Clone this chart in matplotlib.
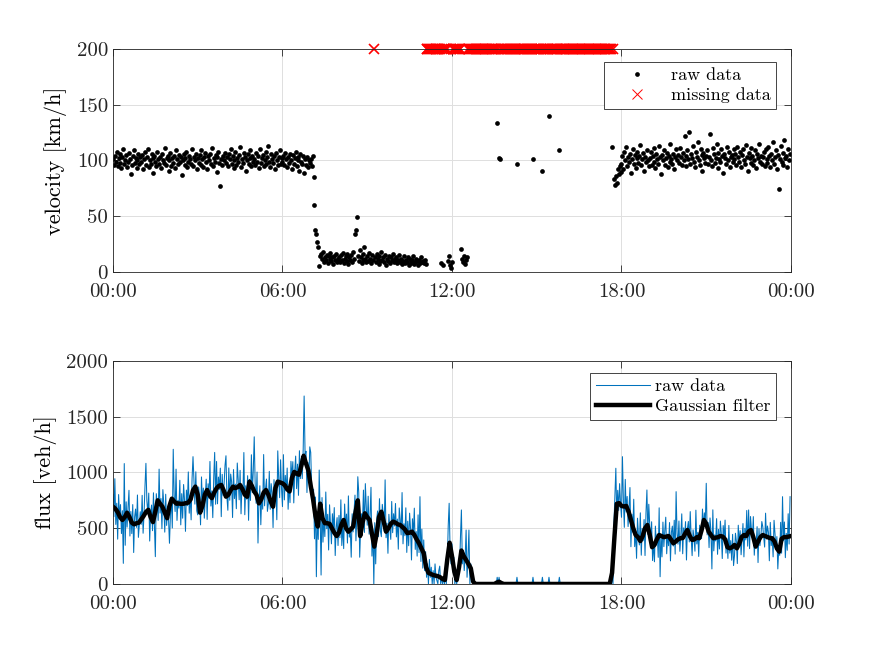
import numpy as np
import matplotlib.pyplot as plt
import matplotlib.dates as mdates

plt.rcParams['font.family'] = 'serif'
plt.rcParams['font.serif'] = ['cmr10']
plt.rcParams['mathtext.fontset'] = 'cm'
plt.rcParams['axes.unicode_minus'] = False

N = None

# velocity [km/h], one sample every 2 min starting 00:00, None = missing
vel_00_06 = [
    101, 96, 104, 99, 108, 95, 102, 106, 98, 93, 103, 110, 97, 100, 105, 94, 99, 107, 101, 88, 96, 104, 109, 98, 102, 93, 100, 106, 97, 103,
    99, 105, 92, 101, 108, 96, 103, 110, 94, 100, 97, 106, 102, 89, 104, 99, 95, 108, 101, 97, 103, 93, 106, 100, 98, 111, 96, 102, 104, 91,
    100, 107, 95, 102, 98, 104, 93, 109, 101, 97, 105, 99, 103, 87, 100, 106, 96, 102, 108, 94, 99, 104, 101, 97, 110, 95, 103, 100, 106, 92,
    102, 98, 105, 96, 109, 101, 94, 103, 107, 99, 92, 104, 100, 106, 97, 111, 95, 102, 99, 105, 90, 103, 108, 98, 77, 101, 96, 104, 100, 107,
    98, 103, 95, 106, 101, 110, 97, 104, 93, 100, 108, 96, 102, 99, 105, 112, 94, 101, 98, 107, 103, 91, 100, 106, 97, 109, 102, 95, 104, 99,
    101, 96, 107, 99, 104, 93, 110, 98, 102, 105, 95, 100, 108, 97, 103, 113, 99, 94, 106, 101, 98, 104, 92, 107, 100, 96, 103, 109, 97, 102,
]
vel_06_12 = [
    99, 104, 96, 107, 101, 94, 103, 98, 106, 100, 92, 105, 97, 102, 108, 95, 100, 103, 91, 106, 99, 97, 104, 89, 101, 96, 103, 94, 100, 98,
    101, 95, 104, 85, 60, 38, 34, 27, 22, 5, 14, 16, 12, 18, 9, 13, 11, 15, 8, 14, 12, 17, 10, 13, 7, 14, 11, 16, 9, 12,
    13, 9, 15, 11, 17, 8, 12, 14, 10, 16, 7, 13, 11, 15, 9, 18, 12, 34, 38, 49, 14, 10, 20, 13, 8, 16, 11, 22, 12, 9,
    14, 10, 17, 12, 8, 15, 11, N, 13, 9, 16, 12, 7, 14, 10, 18, 11, 13, 9, 15, 6, 12, 10, 14, 8, 13, 11, 16, 9, 12,
    10, 13, 8, 11, 15, 9, 12, 7, 10, 14, 8, 11, 9, 13, 6, 12, 10, 8, 11, 14, 7, 9, 12, 10, 6, 11, 8, 13, 9, 10,
] + [8, 11, 7] + [N] * 15 + [8, N, 6] + [N] * 5 + [10, 14, 6, 4]
vel_12_18 = ([9] + [N] * 9 + [21, 12, 9, 14, 7, 11, 13] + [N] * 13
             + [N] * 18 + [134, N, 102, 101] + [N] * 8
             + [N] * 9 + [97] + [N] * 16 + [101] + [N] * 3
             + [N] * 6 + [91] + [N] * 6 + [140] + [N] * 10 + [109] + [N] * 5
             + [N] * 30
             + [N] * 20 + [112, N, 83, 78, 86, 80, 92, 88, 95, 90])
vel_18_24 = [
    97, 104, 92, 108, 100, 112, 95, 103, 99, 106, 89, 101, 110, 97, 105, 93, 102, 108, 98, 104, 114, 96, 101, 107, 91, 103, 99, 109, 100, 95,
    102, 108, 96, 104, 111, 99, 93, 106, 101, 97, 113, 103, 88, 105, 100, 109, 96, 102, 107, 94, 104, 99, 115, 101, 97, 106, 92, 103, 110, 100,
    105, 98, 111, 103, 96, 107, 100, 122, 104, 95, 109, 101, 126, 97, 106, 102, 113, 99, 94, 108, 103, 117, 100, 96, 110, 105, 91, 107, 102, 98,
    104, 109, 97, 103, 124, 100, 95, 111, 106, 98, 102, 115, 93, 107, 101, 99, 110, 104, 89, 106, 102, 97, 112, 100, 108, 94, 103, 105, 99, 110,
    101, 106, 96, 112, 103, 99, 108, 94, 105, 110, 100, 97, 114, 103, 91, 107, 102, 98, 111, 104, 96, 100, 109, 93, 106, 102, 115, 99, 104, 97,
    103, 108, 95, 110, 101, 98, 112, 104, 94, 106, 100, 117, 97, 103, 109, 92, 105, 74, 101, 113, 99, 107, 96, 118, 102, 104, 94, 110, 100, 106,
]

# flux [veh/h], one sample every 2 min starting 00:00
flux_00_06 = [
    804, 604, 944, 534, 724, 402, 802, 592, 712, 452, 657, 185, 1080, 347, 737, 510, 690, 840, 430, 650, 452, 712, 282, 602, 672, 508, 798, 418, 538, 648,
    535, 795, 455, 625, 875, 1082, 745, 635, 815, 385, 628, 708, 478, 818, 528, 245, 810, 720, 570, 1030, 636, 766, 496, 846, 716, 465, 805, 525, 695, 585,
    365, 612, 772, 502, 1208, 790, 650, 1030, 570, 750, 680, 930, 530, 810, 590, 892, 752, 472, 842, 702, 1005, 635, 795, 575, 945, 1142, 936, 716, 1006, 656,
    620, 870, 780, 530, 960, 720, 860, 590, 770, 940, 579, 899, 769, 1099, 699, 835, 595, 955, 1180, 715, 1099, 719, 959, 849, 1039, 604, 984, 794, 894, 1064,
    1150, 781, 661, 1041, 751, 986, 916, 596, 1026, 766, 895, 675, 1085, 935, 755, 1019, 629, 879, 809, 1179, 621, 881, 761, 971, 571, 939, 749, 1159, 819, 1019,
    1320, 894, 724, 1004, 367, 751, 881, 531, 801, 671, 1161, 701, 851, 941, 651, 720, 1010, 670, 900, 820, 506, 936, 756, 866, 576, 1194, 944, 774, 1114, 854,
]
flux_06_12 = [
    694, 1160, 754, 974, 834, 1040, 670, 890, 730, 1100, 957, 1097, 727, 1007, 1147, 855, 1075, 795, 1195, 945, 1125, 945, 1205, 1686, 1165, 1190, 820, 1090, 930, 1230,
    1180, 860, 715, 850, 405, 780, 65, 625, 400, 1022, 640, 80, 775, 375, 590, 425, 825, 495, 625, 305, 710, 540, 360, 630, 490, 685, 255, 505, 595, 345,
    615, 415, 755, 345, 535, 317, 717, 507, 627, 367, 790, 420, 490, 240, 630, 467, 647, 797, 387, 607, 962, 820, 240, 500, 630, 552, 842, 462, 900, 692,
    527, 787, 447, 617, 867, 250, 490, 0, 550, 180, 575, 655, 425, 765, 475, 424, 714, 624, 474, 934, 415, 545, 275, 625, 495, 400, 740, 460, 630, 520,
    722, 422, 582, 312, 682, 580, 440, 820, 360, 540, 433, 683, 283, 563, 343, 635, 495, 215, 585, 445, 680, 310, 470, 250, 620, 282, 783, 202, 492, 142,
    395, 120, 290, 60, 180, 0, 220, 60, 150, 0, 120, 0, 180, 60, 30, 0, 120, 160, 0, 60, 0, 60, 0, 120, 0, 180, 520, 724, 300, 180,
]
flux_12_18 = ([360, 120, 240, 0, 60, 0, 60, 180, 120, 420, 664, 180, 300, 120, 240, 484, 60, 240, 484, 0, 180, 120, 60, 0, 0, 0, 0, 0, 0, 0]
              + [0] * 18 + [60, 0, 60] + [0] * 9
              + [0] * 9 + [60] + [0] * 16 + [60] + [0] * 3
              + [0] * 6 + [60] + [0] * 6 + [60] + [0] * 10 + [60] + [0] * 5
              + [0] * 30
              + [0] * 20 + [60, 0, 540, 780, 1038, 600, 840, 660, 900, 720])
flux_18_24 = [
    598, 1142, 758, 508, 938, 645, 785, 515, 695, 865, 334, 625, 465, 760, 335, 470, 230, 590, 440, 350, 638, 258, 498, 388, 578, 255, 635, 843, 445, 715,
    536, 336, 558, 210, 372, 199, 519, 351, 447, 239, 683, 65, 443, 243, 555, 335, 479, 599, 271, 447, 343, 551, 207, 463, 519, 340, 572, 268, 828, 452,
    357, 565, 293, 429, 629, 271, 503, 415, 559, 215, 497, 561, 377, 649, 417, 254, 486, 414, 294, 662, 359, 463, 247, 527, 423, 407, 672, 488, 638, 536,
    903, 440, 552, 326, 592, 473, 135, 665, 297, 441, 386, 586, 266, 490, 314, 564, 452, 228, 524, 412, 573, 277, 405, 229, 525, 277, 389, 213, 445, 165,
    255, 455, 383, 183, 527, 366, 478, 262, 406, 542, 243, 499, 395, 659, 339, 664, 317, 605, 485, 413, 604, 258, 410, 362, 514, 192, 496, 344, 424, 560,
    515, 427, 331, 635, 403, 520, 464, 208, 552, 344, 419, 243, 571, 451, 307, 425, 135, 313, 257, 553, 276, 783, 388, 556, 236, 454, 302, 630, 358, 783,
]

# Gaussian filtered flux [veh/h], one value every 5 min from 00:00 to 24:00
flux_smooth = [
    693, 675, 645, 600, 574, 600, 639, 600, 550, 535, 545, 550,
    580, 609, 645, 665, 600, 555, 650, 750, 720, 693, 640, 590,
    700, 765, 740, 720, 722, 718, 720, 725, 730, 760, 840, 873,
    800, 640, 700, 800, 843, 795, 770, 820, 858, 880, 888, 840,
    783, 800, 840, 873, 860, 870, 888, 850, 800, 783, 918, 880,
    830, 798, 723, 760, 820, 843, 800, 740, 693, 860, 918, 910,
    903, 885, 850, 830, 950, 1005, 990, 980, 1060, 1150, 1080, 1020,
    880, 760, 610, 515, 720, 590, 545, 545, 540, 500, 460, 430,
    460, 530, 574, 500, 469, 490, 514, 640, 750, 430, 550, 634,
    600, 574, 450, 335, 450, 600, 648, 560, 469, 500, 540, 559,
    550, 535, 529, 510, 490, 456, 460, 469, 440, 400, 365, 320,
    275, 150, 100, 90, 80, 75, 70, 60, 45, 36, 220, 370,
    250, 110, 36, 150, 300, 250, 215, 180, 140, 20, 0, 0,
    0, 0, 0, 0, 0, 0, 0, 12, 20, 8, 0, 0,
    0, 0, 0, 0, 0, 0, 0, 0, 0, 0, 0, 0,
    0, 0, 0, 0, 0, 0, 0, 0, 0, 0, 0, 0,
    0, 0, 0, 0, 0, 0, 0, 0, 0, 0, 0, 0,
    0, 0, 0, 0, 0, 0, 0, 0, 100, 420, 720, 725,
    700, 695, 700, 650, 574, 500, 440, 420, 385, 430, 500, 529,
    440, 330, 350, 400, 439, 430, 420, 425, 430, 400, 365, 380,
    400, 410, 412, 450, 484, 430, 395, 400, 420, 410, 480, 574,
    540, 470, 440, 410, 415, 420, 430, 425, 400, 330, 320, 330,
    350, 320, 360, 420, 439, 430, 470, 484, 420, 335, 380, 420,
    439, 430, 420, 412, 410, 380, 320, 290, 405, 420, 420, 425,
    430,
]

vel = np.array(vel_00_06 + vel_06_12 + vel_12_18 + vel_18_24, dtype=float)
flux = np.array(flux_00_06 + flux_06_12 + flux_12_18 + flux_18_24, dtype=float)
smooth = np.array(flux_smooth, dtype=float)

day = np.datetime64('2020-01-01T00:00')
t_raw = day + np.arange(len(vel)) * np.timedelta64(2, 'm')
t_flux = day + np.arange(len(flux)) * np.timedelta64(2, 'm')
t_smooth = day + np.arange(len(smooth)) * np.timedelta64(5, 'm')
missing = np.isnan(vel)

dark = '#262626'
fig = plt.figure(figsize=(8.75, 6.56), dpi=100)
ax1 = fig.add_axes([0.1291, 0.5854, 0.7749, 0.3399])
ax2 = fig.add_axes([0.1291, 0.1098, 0.7749, 0.3399])

ax1.plot(t_raw, vel, 'o', color='k', ms=3.4, mew=0, label='raw data')
ax1.plot(t_raw[missing], np.full(missing.sum(), 200.0), 'x', color='r', ms=7, mew=1.2,
         clip_on=False, label='missing data')
ax1.set_ylim(0, 200)
ax1.set_yticks([0, 50, 100, 150, 200])
ax1.set_ylabel('velocity [km/h]', fontsize=16, labelpad=7)

ax2.plot(t_flux, flux, color='#0072BD', lw=0.75, label='raw data')
ax2.plot(t_smooth, smooth, color='k', lw=3.2, solid_joinstyle='round', label='Gaussian filter')
ax2.set_ylim(0, 2000)
ax2.set_yticks([0, 500, 1000, 1500, 2000])
ax2.set_ylabel('flux [veh/h]', fontsize=16, labelpad=7)

for ax in (ax1, ax2):
    ax.set_xlim(day, day + np.timedelta64(24, 'h'))
    ax.xaxis.set_major_locator(mdates.HourLocator(byhour=[0, 6, 12, 18]))
    ax.xaxis.set_major_formatter(mdates.DateFormatter('%H:%M'))
    ax.grid(True, color='#dfdfdf', lw=0.7)
    ax.set_axisbelow(True)
    ax.tick_params(direction='in', top=True, right=True, length=5, width=0.6,
                   labelsize=15, colors=dark)
    ax.tick_params(axis='x', pad=8)
    for s in ax.spines.values():
        s.set_color(dark)
        s.set_linewidth(0.6)

leg1 = ax1.legend(loc='upper right', bbox_to_anchor=(0.8869, 0.9055), bbox_transform=fig.transFigure,
                  borderaxespad=0, fontsize=13, fancybox=False, framealpha=1, edgecolor=dark,
                  handlelength=3.0, handletextpad=0.4, labelspacing=0.25, borderpad=0.3, numpoints=1)
leg2 = ax2.legend(loc='upper right', bbox_to_anchor=(0.8869, 0.4314), bbox_transform=fig.transFigure,
                  borderaxespad=0, fontsize=13, fancybox=False, framealpha=1, edgecolor=dark,
                  handlelength=3.0, handletextpad=0.3, labelspacing=0.25, borderpad=0.3)
for leg in (leg1, leg2):
    leg.get_frame().set_linewidth(0.6)
leg1.legend_handles[1].set_markeredgewidth(0.7)

fig.savefig('out.png', dpi=100)
